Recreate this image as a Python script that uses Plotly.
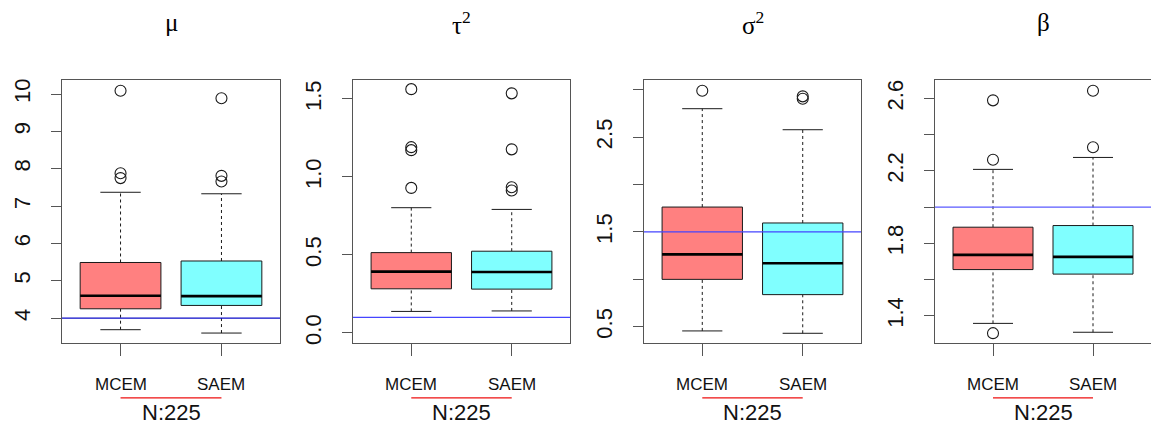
import plotly.graph_objects as go

# Estimation methods compared in every panel
methods = ["MCEM", "SAEM"]
fills = ["#FF8080", "#80FFFF"]

# Parameter names (panel titles) and the true values drawn as reference lines
param_titles = ["μ", "τ<sup>2</sup>", "σ<sup>2</sup>", "β"]
true_values = [4.0, 0.1, 1.5, 2.0]
sample_label = "N:225"

# Box-plot statistics per parameter: [MCEM, SAEM]
mu_whislo = [3.69, 3.60]
mu_q1 = [4.25, 4.34]
mu_med = [4.60, 4.59]
mu_q3 = [5.49, 5.53]
mu_whishi = [7.37, 7.33]
mu_out = [[7.75, 7.88, 10.09], [7.66, 7.81, 9.89]]

tau2_whislo = [0.138, 0.141]
tau2_q1 = [0.283, 0.281]
tau2_med = [0.393, 0.391]
tau2_q3 = [0.515, 0.524]
tau2_whishi = [0.803, 0.792]
tau2_out = [[0.930, 1.172, 1.191, 1.563], [0.913, 0.934, 1.177, 1.536]]

sigma2_whislo = [0.455, 0.430]
sigma2_q1 = [0.999, 0.838]
sigma2_med = [1.263, 1.169]
sigma2_q3 = [1.762, 1.594]
sigma2_whishi = [2.800, 2.578]
sigma2_out = [[2.99], [2.905, 2.93]]

beta_whislo = [1.358, 1.309]
beta_q1 = [1.655, 1.630]
beta_med = [1.736, 1.725]
beta_q3 = [1.889, 1.898]
beta_whishi = [2.208, 2.274]
beta_out = [[1.304, 2.261, 2.589], [2.330, 2.642]]

# Labelled ticks per panel, plus the spacing of all (labelled and unlabelled) ticks
mu_ticks = [4, 5, 6, 7, 8, 9, 10]
mu_ticktext = ["4", "5", "6", "7", "8", "9", "10"]
mu_tickstep = 1.0
tau2_ticks = [0.0, 0.5, 1.0, 1.5]
tau2_ticktext = ["0.0", "0.5", "1.0", "1.5"]
tau2_tickstep = 0.5
sigma2_ticks = [0.5, 1.5, 2.5]
sigma2_ticktext = ["0.5", "1.5", "2.5"]
sigma2_tickstep = 0.5
beta_ticks = [1.4, 1.8, 2.2, 2.6]
beta_ticktext = ["1.4", "1.8", "2.2", "2.6"]
beta_tickstep = 0.2

panels = [
    dict(whislo=mu_whislo, q1=mu_q1, med=mu_med, q3=mu_q3, whishi=mu_whishi, out=mu_out,
         ticks=mu_ticks, ticktext=mu_ticktext, step=mu_tickstep,
         ylim=(3.34, 10.37), refcolor="#0a0ac8"),
    dict(whislo=tau2_whislo, q1=tau2_q1, med=tau2_med, q3=tau2_q3, whishi=tau2_whishi, out=tau2_out,
         ticks=tau2_ticks, ticktext=tau2_ticktext, step=tau2_tickstep,
         ylim=(-0.063, 1.62), refcolor="#4545ff"),
    dict(whislo=sigma2_whislo, q1=sigma2_q1, med=sigma2_med, q3=sigma2_q3, whishi=sigma2_whishi,
         out=sigma2_out, ticks=sigma2_ticks, ticktext=sigma2_ticktext, step=sigma2_tickstep,
         ylim=(0.33, 3.10), refcolor="#4545ff"),
    dict(whislo=beta_whislo, q1=beta_q1, med=beta_med, q3=beta_q3, whishi=beta_whishi, out=beta_out,
         ticks=beta_ticks, ticktext=beta_ticktext, step=beta_tickstep,
         ylim=(1.251, 2.70), refcolor="#5a5aff"),
]

W, H = 1151, 426
x_domains_px = [(62, 280), (353, 570), (644, 861), (935, 1151)]
y_domain = [1 - 344 / H, 1 - 79 / H]
BOX_HALF = 0.4
CAP_HALF = 0.2
INK = "#1a1a1a"
FRAME = "#555555"

fig = go.Figure()
layout = dict(
    width=W, height=H, margin=dict(l=0, r=0, t=0, b=0),
    paper_bgcolor="white", plot_bgcolor="white", showlegend=False,
    shapes=[], annotations=[],
)

for i, p in enumerate(panels):
    n = i + 1
    xa = "x" if n == 1 else f"x{n}"
    ya = "y" if n == 1 else f"y{n}"
    for j, m in enumerate(methods):
        pos = j + 1
        lo, q1, md, q3, hi = p["whislo"][j], p["q1"][j], p["med"][j], p["q3"][j], p["whishi"][j]
        # dashed whiskers
        fig.add_trace(go.Scatter(
            x=[pos, pos, None, pos, pos], y=[lo, q1, None, q3, hi], mode="lines",
            line=dict(color=INK, width=1, dash="3px,3px"), xaxis=xa, yaxis=ya, hoverinfo="skip"))
        # whisker caps
        fig.add_trace(go.Scatter(
            x=[pos - CAP_HALF, pos + CAP_HALF, None, pos - CAP_HALF, pos + CAP_HALF],
            y=[lo, lo, None, hi, hi], mode="lines",
            line=dict(color=INK, width=1), xaxis=xa, yaxis=ya, hoverinfo="skip"))
        # box body
        fig.add_trace(go.Scatter(
            x=[pos - BOX_HALF, pos + BOX_HALF, pos + BOX_HALF, pos - BOX_HALF, pos - BOX_HALF],
            y=[q1, q1, q3, q3, q1], mode="lines", fill="toself", fillcolor=fills[j],
            line=dict(color=INK, width=1), xaxis=xa, yaxis=ya, name=m))
        # median
        fig.add_trace(go.Scatter(
            x=[pos - BOX_HALF, pos + BOX_HALF], y=[md, md], mode="lines",
            line=dict(color="black", width=2.6), xaxis=xa, yaxis=ya, hoverinfo="skip"))
        # outliers
        fig.add_trace(go.Scatter(
            x=[pos] * len(p["out"][j]), y=p["out"][j], mode="markers",
            marker=dict(symbol="circle-open", size=11, color=INK, line=dict(width=1.1)),
            xaxis=xa, yaxis=ya))

    x0, x1 = x_domains_px[i]
    last = n == len(panels)
    layout["xaxis" if n == 1 else f"xaxis{n}"] = dict(
        domain=[x0 / W, min(x1 / W, 1.0)], anchor=ya, range=[0.42, 2.58],
        tickvals=[1, 2], showticklabels=False, ticks="outside", ticklen=12,
        tickcolor=FRAME, tickwidth=1, showline=True, mirror=True, linecolor=FRAME,
        linewidth=1, showgrid=False, zeroline=False, fixedrange=True)
    layout["yaxis" if n == 1 else f"yaxis{n}"] = dict(
        domain=y_domain, anchor=xa, range=list(p["ylim"]),
        tickvals=p["ticks"], ticktext=p["ticktext"], tickangle=-90,
        ticks="outside", ticklen=10, tickcolor=FRAME, tickwidth=1,
        minor=dict(tick0=p["ticks"][0], dtick=p["step"], ticks="outside", ticklen=10,
                   tickcolor=FRAME, tickwidth=1, showgrid=False),
        tickfont=dict(family="Liberation Sans", size=22, color="#111111"),
        ticklabelstandoff=12,
        showline=True, mirror=not last, linecolor=FRAME, linewidth=1,
        showgrid=False, zeroline=False, fixedrange=True)

    # true parameter value
    layout["shapes"].append(dict(
        type="line", xref=f"{xa} domain", yref=ya, x0=0, x1=1,
        y0=true_values[i], y1=true_values[i], line=dict(color=p["refcolor"], width=1.2)))
    # red bar joining the two methods
    layout["shapes"].append(dict(
        type="line", xref=xa, yref="paper", x0=1, x1=2,
        y0=1 - 399.7 / H, y1=1 - 399.7 / H, line=dict(color="#ee1111", width=1.2)))

    layout["annotations"].append(dict(
        text=param_titles[i], xref=f"{xa} domain", yref="paper", x=0.5, y=1 - 21 / H,
        showarrow=False, xanchor="center", yanchor="middle",
        font=dict(family="Liberation Serif", size=25, color="black")))
    for j, m in enumerate(methods):
        layout["annotations"].append(dict(
            text=m, xref=xa, yref="paper", x=j + 1, y=1 - 386 / H, showarrow=False,
            xanchor="center", yanchor="middle",
            font=dict(family="Liberation Sans", size=17, color="#111111")))
    layout["annotations"].append(dict(
        text=sample_label, xref=xa, yref="paper", x=1.5, y=1 - 414 / H, showarrow=False,
        xanchor="center", yanchor="middle",
        font=dict(family="Liberation Sans", size=22, color="#111111")))

fig.update_layout(**layout)
fig.write_html("out.html")
